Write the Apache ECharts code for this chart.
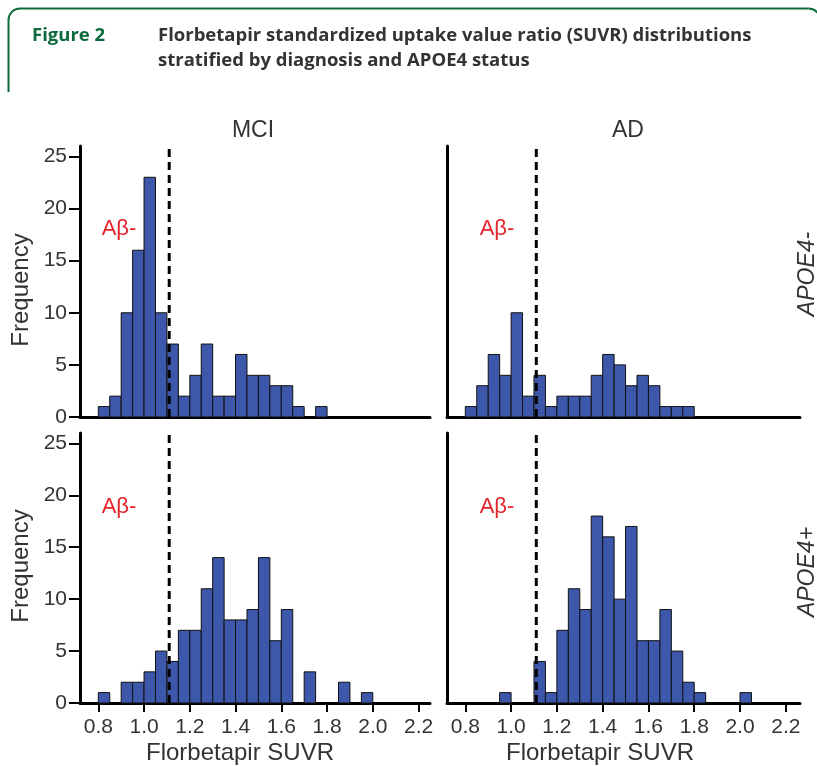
<!DOCTYPE html>
<html><head><meta charset="utf-8">
<script src="https://cdn.jsdelivr.net/npm/echarts@6/dist/echarts.min.js"></script>
<style>html,body{margin:0;padding:0;background:#fff}#c{width:817px;height:766px}</style>
</head><body><div id="c"></div>
<script>
// ---- data (histogram bins of width 0.05, starting at each bin start) ----
const binStarts = [0.80,0.85,0.90,0.95,1.00,1.05,1.10,1.15,1.20,1.25,1.30,1.35,1.40,1.45,1.50,1.55,1.60,1.65,1.70,1.75,1.80,1.85,1.90,1.95,2.00,2.05];
const binWidth = 0.05;
const mciApoeNeg = [1,2,10,16,23,10,7,2,4,7,2,2,6,4,4,3,3,1,0,1,0,0,0,0,0,0];
const adApoeNeg  = [1,3,6,4,10,2,4,1,2,2,2,4,6,5,3,4,3,1,1,1,0,0,0,0,0,0];
const mciApoePos = [1,0,2,2,3,5,4,7,7,11,14,8,8,9,14,6,9,0,3,0,0,2,0,1,0,0];
const adApoePos  = [0,0,0,1,0,0,4,1,7,11,9,18,16,10,17,6,6,9,5,2,1,0,0,0,1,0];
const xTicks = [0.8,1.0,1.2,1.4,1.6,1.8,2.0,2.2];
const yTicks = [0,5,10,15,20,25];
const cutoff = 1.11;
const columnTitles = ['MCI','AD'];
const rowTitles = ['APOE4-','APOE4+'];
const xAxisTitle = 'Florbetapir SUVR';
const yAxisTitle = 'Frequency';
const negLabel = 'A\u03b2-';
const figLabel = 'Figure 2';
const figTitle = ['Florbetapir standardized uptake value ratio (SUVR) distributions','stratified by diagnosis and APOE4 status'];

// ---- layout ----
const FONT = '"Liberation Sans", Arial, sans-serif';
const TXT = '#333';
const BAR = '#3d58aa';
const GREEN = '#0b6b3c';
const RED = '#e5232b';
const panels = [
  {grid:{left:80, top:146, width:350, height:271}, data:mciApoeNeg, yLab:true,  xLab:false, xMax:2.25},
  {grid:{left:447,top:146, width:353, height:271}, data:adApoeNeg,  yLab:false, xLab:false, xMax:2.262},
  {grid:{left:80, top:433, width:350, height:270}, data:mciApoePos, yLab:true,  xLab:true,  xMax:2.25},
  {grid:{left:447,top:433, width:353, height:270}, data:adApoePos,  yLab:false, xLab:true,  xMax:2.262}
];

const grids=[], xAxes=[], yAxes=[], series=[];
panels.forEach((p,i)=>{
  grids.push(p.grid);
  xAxes.push({type:'value', gridIndex:i, min:0.72, max:p.xMax,
    axisLine:{show:true, onZero:false, lineStyle:{color:'#000', width:3}},
    axisTick:{show:p.xLab, customValues:xTicks, length:9, lineStyle:{color:'#000', width:2}},
    axisLabel:{show:p.xLab, customValues:xTicks, margin:14, fontSize:21, color:TXT, fontFamily:FONT,
      formatter:v=>v.toFixed(1)},
    splitLine:{show:false}});
  yAxes.push({type:'value', gridIndex:i, min:0, max:26,
    axisLine:{show:true, lineStyle:{color:'#000', width:3}},
    axisTick:{show:p.yLab, customValues:yTicks, length:11, lineStyle:{color:'#000', width:2}},
    axisLabel:{show:p.yLab, customValues:yTicks, margin:13, fontSize:21, color:TXT, fontFamily:FONT},
    splitLine:{show:false}});
  const d = binStarts.map((s,k)=>[s, s+binWidth, p.data[k]]).filter(r=>r[2]>0);
  series.push({type:'custom', xAxisIndex:i, yAxisIndex:i, silent:true, z:2,
    encode:{x:[0,1], y:2}, data:d,
    renderItem:(params, api)=>{
      const a = api.coord([api.value(0), 0]);
      const b = api.coord([api.value(1), api.value(2)]);
      return {type:'rect', shape:{x:a[0], y:b[1], width:b[0]-a[0], height:a[1]-b[1]},
        style:{fill:BAR, stroke:'#111', lineWidth:1}};
    }});
  series.push({type:'line', xAxisIndex:i, yAxisIndex:i, silent:true, z:5, symbol:'none',
    data:[[cutoff,0],[cutoff,26]], lineStyle:{color:'#000', width:3, type:[8,5]}});
});

const boxStroke = {fill:null, stroke:GREEN, lineWidth:2};
const mid = {align:'center', verticalAlign:'middle', fill:TXT};
const graphic = [
  {type:'polyline', shape:{points:[[8.5,92],[8.5,20]]}, style:boxStroke},
  {type:'arc', shape:{cx:20, cy:20, r:11.5, startAngle:Math.PI, endAngle:Math.PI*1.5}, style:boxStroke},
  {type:'polyline', shape:{points:[[20,8.5],[808.5,8.5]]}, style:boxStroke},
  {type:'arc', shape:{cx:808.5, cy:20, r:11.5, startAngle:Math.PI*1.5, endAngle:Math.PI*2}, style:boxStroke},
  {type:'polyline', shape:{points:[[820,20],[820,92]]}, style:boxStroke},
  {type:'text', left:32, top:26, style:{text:figLabel, font:'bold 18.5px "Open Sans", sans-serif', fill:GREEN}},
  {type:'text', left:158, top:26, style:{text:figTitle[0], font:'bold 18.5px "Open Sans", sans-serif', fill:'#333'}},
  {type:'text', left:158, top:51, style:{text:figTitle[1], font:'bold 18.5px "Open Sans", sans-serif', fill:'#333'}},
  {type:'text', x:253, y:131, style:Object.assign({text:columnTitles[0], font:'23px '+FONT}, mid)},
  {type:'text', x:628, y:131, style:Object.assign({text:columnTitles[1], font:'23px '+FONT}, mid)},
  {type:'text', x:808, y:274, rotation:Math.PI/2, style:Object.assign({text:rowTitles[0], font:'italic 23px '+FONT}, mid)},
  {type:'text', x:808, y:572, rotation:Math.PI/2, style:Object.assign({text:rowTitles[1], font:'italic 23px '+FONT}, mid)},
  {type:'text', x:21, y:290, rotation:Math.PI/2, style:Object.assign({text:yAxisTitle, font:'24px '+FONT}, mid)},
  {type:'text', x:21, y:566, rotation:Math.PI/2, style:Object.assign({text:yAxisTitle, font:'24px '+FONT}, mid)},
  {type:'text', x:240, y:753, style:Object.assign({text:xAxisTitle, font:'24px '+FONT}, mid)},
  {type:'text', x:600, y:753, style:Object.assign({text:xAxisTitle, font:'24px '+FONT}, mid)},
  {type:'text', x:119, y:229, style:Object.assign({}, mid, {text:negLabel, font:'22px '+FONT, fill:RED})},
  {type:'text', x:497, y:229, style:Object.assign({}, mid, {text:negLabel, font:'22px '+FONT, fill:RED})},
  {type:'text', x:119, y:507, style:Object.assign({}, mid, {text:negLabel, font:'22px '+FONT, fill:RED})},
  {type:'text', x:497, y:507, style:Object.assign({}, mid, {text:negLabel, font:'22px '+FONT, fill:RED})}
];

const chart = echarts.init(document.getElementById('c'), null, {renderer:'canvas'});
chart.setOption({animation:false, backgroundColor:'#fff', grid:grids, xAxis:xAxes, yAxis:yAxes, series:series, graphic:graphic});
</script></body></html>
